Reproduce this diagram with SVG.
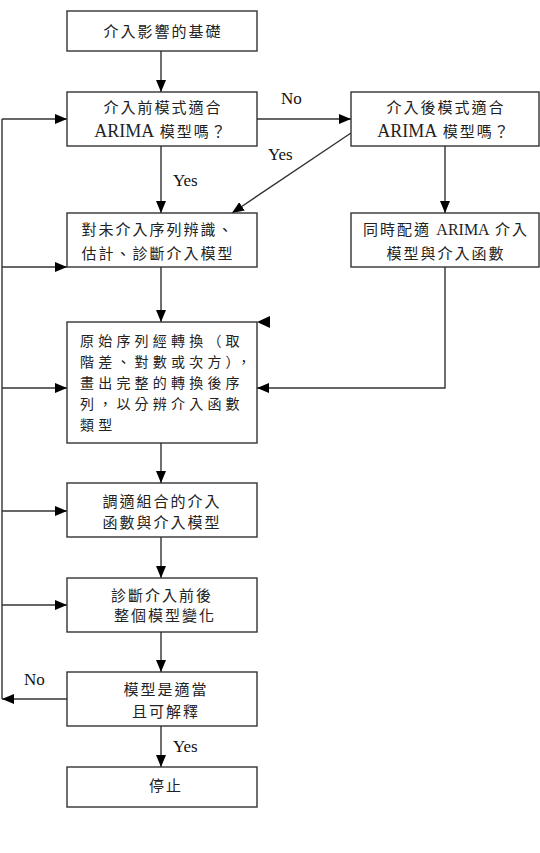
<svg xmlns="http://www.w3.org/2000/svg" width="540" height="853" viewBox="0 0 540 853">
<style>
.box{fill:#fff;stroke:#333;stroke-width:1.4}
.t{font-family:"Noto Sans CJK TC","Noto Sans CJK SC",sans-serif;font-size:15px;fill:#222;letter-spacing:2px;text-anchor:middle}
.tl{font-family:"Noto Sans CJK TC","Noto Sans CJK SC",sans-serif;font-size:14px;fill:#222;letter-spacing:4.2px}
.r{font-family:"Liberation Serif","Noto Sans CJK TC",serif;font-size:18px;letter-spacing:0}
.lbl{font-family:"Liberation Serif",serif;font-size:17px;fill:#111}
.c{fill:none;stroke:#333;stroke-width:1.4}
</style>
<defs>
<marker id="ah" viewBox="0 0 12 10" refX="12" refY="5" markerWidth="12" markerHeight="10" markerUnits="userSpaceOnUse" orient="auto">
<path d="M0,0 L12,5 L0,10 Z" fill="#000"/>
</marker>
</defs>
<g id="connectors">
<path class="c" d="M161,51 V92" marker-end="url(#ah)"/>
<path class="c" d="M257,119 H351" marker-end="url(#ah)"/>
<path class="c" d="M161,146 V213" marker-end="url(#ah)"/>
<path class="c" d="M351,133 L232,213" marker-end="url(#ah)"/>
<path class="c" d="M445,146 V213" marker-end="url(#ah)"/>
<path class="c" d="M445,267 V388 H257" marker-end="url(#ah)"/>
<path class="c" d="M161,267 V322" marker-end="url(#ah)"/>
<path class="c" d="M161,443 V483" marker-end="url(#ah)"/>
<path class="c" d="M161,537 V578" marker-end="url(#ah)"/>
<path class="c" d="M161,632 V672" marker-end="url(#ah)"/>
<path class="c" d="M161,726 V767" marker-end="url(#ah)"/>
<path class="c" d="M67,699 H2" marker-end="url(#ah)"/>
<path class="c" d="M2,119 V699"/>
<path class="c" d="M2,119 H67" marker-end="url(#ah)"/>
<path class="c" d="M2,267 H67" marker-end="url(#ah)"/>
<path class="c" d="M2,388 H67" marker-end="url(#ah)"/>
<path class="c" d="M2,511 H67" marker-end="url(#ah)"/>
<path class="c" d="M2,605 H67" marker-end="url(#ah)"/>
<path d="M257,322 L270,316 L270,328 Z" fill="#000"/>
<text class="lbl" x="281" y="104">No</text>
<text class="lbl" x="268" y="160">Yes</text>
<text class="lbl" x="173" y="186">Yes</text>
<text class="lbl" x="24" y="685">No</text>
<text class="lbl" x="173" y="752">Yes</text>
</g>
<g id="n1">
<rect class="box" x="67" y="11" width="190" height="40"/>
<text class="t" x="163" y="37">介入影響的基礎</text>
</g>
<g id="n2">
<rect class="box" x="67" y="92" width="190" height="54"/>
<text class="t" x="163" y="113">介入前模式適合</text>
<text class="t" x="161" y="137"><tspan class="r">ARIMA</tspan> 模型嗎？</text>
</g>
<g id="n3">
<rect class="box" x="351" y="92" width="188" height="54"/>
<text class="t" x="446" y="113">介入後模式適合</text>
<text class="t" x="444" y="137"><tspan class="r">ARIMA</tspan> 模型嗎？</text>
</g>
<g id="n4">
<rect class="box" x="67" y="213" width="190" height="54"/>
<text class="t" x="158" y="235">對未介入序列辨識、</text>
<text class="t" x="158" y="259">估計、診斷介入模型</text>
</g>
<g id="n5">
<rect class="box" x="351" y="213" width="188" height="54"/>
<text class="t" x="446" y="235">同時配適 <tspan class="r" style="font-size:16px">ARIMA</tspan> 介入</text>
<text class="t" x="446" y="259">模型與介入函數</text>
</g>
<g id="n6">
<rect class="box" x="67" y="322" width="190" height="121"/>
<text class="tl" x="80" y="346">原始序列經轉換（取</text>
<text class="tl" x="80" y="367">階差、對數或次方），</text>
<text class="tl" x="80" y="388">畫出完整的轉換後序</text>
<text class="tl" x="80" y="409">列，以分辨介入函數</text>
<text class="tl" x="80" y="430">類型</text>
</g>
<g id="n7">
<rect class="box" x="67" y="483" width="190" height="54"/>
<text class="t" x="162" y="507">調適組合的介入</text>
<text class="t" x="162" y="528">函數與介入模型</text>
</g>
<g id="n8">
<rect class="box" x="67" y="578" width="190" height="54"/>
<text class="t" x="162" y="601">診斷介入前後</text>
<text class="t" x="165" y="621">整個模型變化</text>
</g>
<g id="n9">
<rect class="box" x="67" y="672" width="190" height="54"/>
<text class="t" x="166" y="695">模型是適當</text>
<text class="t" x="166" y="717">且可解釋</text>
</g>
<g id="n10">
<rect class="box" x="67" y="767" width="190" height="40"/>
<text class="t" x="166" y="791">停止</text>
</g>
</svg>
